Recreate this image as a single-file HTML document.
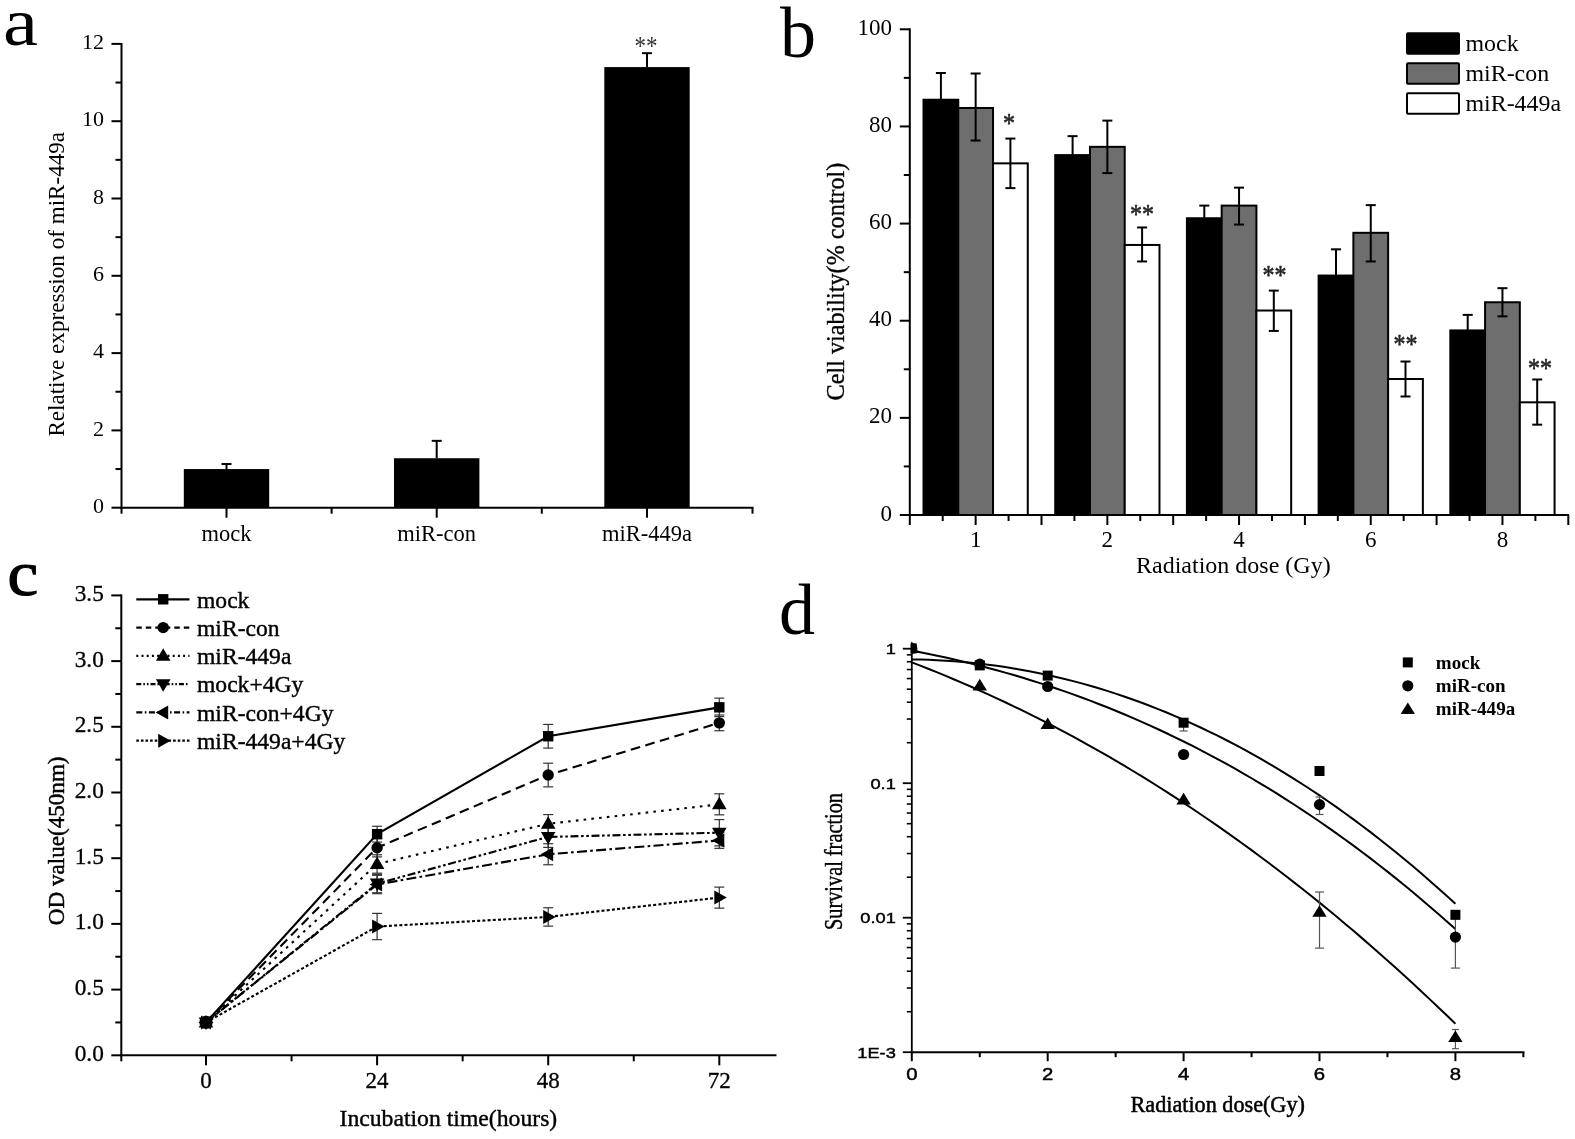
<!DOCTYPE html>
<html lang="en">
<head>
<meta charset="utf-8">
<title>Figure: miR-449a and radiosensitivity</title>
<style>
html,body{margin:0;padding:0;background:#fff;}
body{width:1575px;height:1139px;overflow:hidden;font-family:"Liberation Serif", serif;}
svg{display:block;filter:blur(0.5px);}
text{white-space:pre;}
</style>
</head>
<body>
<svg width="1575" height="1139" viewBox="0 0 1575 1139">
<rect x="0" y="0" width="1575" height="1139" fill="#fff"/>
<g id="panel-a">
<text font-family='"Liberation Serif", serif' font-size="68" text-anchor="start" fill="#000" transform="translate(3 45.3) scale(1.16 1)" >a</text>
<line x1="121.5" y1="42.9" x2="121.5" y2="508.7" stroke="#000" stroke-width="2" />
<line x1="120.5" y1="507.7" x2="753.5" y2="507.7" stroke="#000" stroke-width="2" />
<line x1="111.5" y1="507.7" x2="121.5" y2="507.7" stroke="#000" stroke-width="2" />
<text x="104" y="512.9" font-family='"Liberation Serif", serif' font-size="22" text-anchor="end" fill="#000" >0</text>
<line x1="115.5" y1="469.05" x2="121.5" y2="469.05" stroke="#000" stroke-width="2" />
<line x1="111.5" y1="430.4" x2="121.5" y2="430.4" stroke="#000" stroke-width="2" />
<text x="104" y="435.6" font-family='"Liberation Serif", serif' font-size="22" text-anchor="end" fill="#000" >2</text>
<line x1="115.5" y1="391.75" x2="121.5" y2="391.75" stroke="#000" stroke-width="2" />
<line x1="111.5" y1="353.1" x2="121.5" y2="353.1" stroke="#000" stroke-width="2" />
<text x="104" y="358.3" font-family='"Liberation Serif", serif' font-size="22" text-anchor="end" fill="#000" >4</text>
<line x1="115.5" y1="314.45" x2="121.5" y2="314.45" stroke="#000" stroke-width="2" />
<line x1="111.5" y1="275.8" x2="121.5" y2="275.8" stroke="#000" stroke-width="2" />
<text x="104" y="281" font-family='"Liberation Serif", serif' font-size="22" text-anchor="end" fill="#000" >6</text>
<line x1="115.5" y1="237.15" x2="121.5" y2="237.15" stroke="#000" stroke-width="2" />
<line x1="111.5" y1="198.5" x2="121.5" y2="198.5" stroke="#000" stroke-width="2" />
<text x="104" y="203.7" font-family='"Liberation Serif", serif' font-size="22" text-anchor="end" fill="#000" >8</text>
<line x1="115.5" y1="159.85" x2="121.5" y2="159.85" stroke="#000" stroke-width="2" />
<line x1="111.5" y1="121.2" x2="121.5" y2="121.2" stroke="#000" stroke-width="2" />
<text x="104" y="126.4" font-family='"Liberation Serif", serif' font-size="22" text-anchor="end" fill="#000" >10</text>
<line x1="115.5" y1="82.55" x2="121.5" y2="82.55" stroke="#000" stroke-width="2" />
<line x1="111.5" y1="43.9" x2="121.5" y2="43.9" stroke="#000" stroke-width="2" />
<text x="104" y="49.1" font-family='"Liberation Serif", serif' font-size="22" text-anchor="end" fill="#000" >12</text>
<text font-family='"Liberation Serif", serif' font-size="23.1" text-anchor="middle" fill="#000" transform="translate(63.7 284.3) rotate(-90)" >Relative expression of miR-449a</text>
<line x1="121.5" y1="507.7" x2="121.5" y2="513.7" stroke="#000" stroke-width="2" />
<line x1="331.6" y1="507.7" x2="331.6" y2="513.7" stroke="#000" stroke-width="2" />
<line x1="541.8" y1="507.7" x2="541.8" y2="513.7" stroke="#000" stroke-width="2" />
<line x1="752.5" y1="507.7" x2="752.5" y2="513.7" stroke="#000" stroke-width="2" />
<line x1="226.5" y1="507.7" x2="226.5" y2="517.7" stroke="#000" stroke-width="2" />
<text x="226.5" y="541.3" font-family='"Liberation Serif", serif' font-size="22.5" text-anchor="middle" fill="#000" >mock</text>
<rect x="183.8" y="469.05" width="85.4" height="38.65" fill="#000"/>
<line x1="226.5" y1="464.03" x2="226.5" y2="469.05" stroke="#000" stroke-width="2" />
<line x1="221.5" y1="464.03" x2="231.5" y2="464.03" stroke="#000" stroke-width="2" />
<line x1="436.7" y1="507.7" x2="436.7" y2="517.7" stroke="#000" stroke-width="2" />
<text x="436.7" y="541.3" font-family='"Liberation Serif", serif' font-size="22.5" text-anchor="middle" fill="#000" >miR-con</text>
<rect x="394" y="458.23" width="85.4" height="49.47" fill="#000"/>
<line x1="436.7" y1="440.84" x2="436.7" y2="458.23" stroke="#000" stroke-width="2" />
<line x1="431.7" y1="440.84" x2="441.7" y2="440.84" stroke="#000" stroke-width="2" />
<line x1="647" y1="507.7" x2="647" y2="517.7" stroke="#000" stroke-width="2" />
<text x="647" y="541.3" font-family='"Liberation Serif", serif' font-size="22.5" text-anchor="middle" fill="#000" >miR-449a</text>
<rect x="604.3" y="67.09" width="85.4" height="440.61" fill="#000"/>
<line x1="647" y1="53.18" x2="647" y2="67.09" stroke="#000" stroke-width="2" />
<line x1="642" y1="53.18" x2="652" y2="53.18" stroke="#000" stroke-width="2" />
<text font-family='"Liberation Serif", serif' font-size="23" text-anchor="middle" fill="#333" transform="translate(646 55.3) scale(1 1.2)" >**</text>
</g>
<g id="panel-b">
<text x="780" y="56.5" font-family='"Liberation Serif", serif' font-size="72" text-anchor="start" fill="#000" >b</text>
<line x1="909.8" y1="28.3" x2="909.8" y2="516" stroke="#000" stroke-width="2" />
<line x1="908.8" y1="515" x2="1569" y2="515" stroke="#000" stroke-width="2" />
<line x1="899.8" y1="515" x2="909.8" y2="515" stroke="#000" stroke-width="2" />
<text x="892.1" y="520.5" font-family='"Liberation Serif", serif' font-size="23" text-anchor="end" fill="#000" >0</text>
<line x1="903.8" y1="466.43" x2="909.8" y2="466.43" stroke="#000" stroke-width="2" />
<line x1="899.8" y1="417.86" x2="909.8" y2="417.86" stroke="#000" stroke-width="2" />
<text x="892.1" y="423.36" font-family='"Liberation Serif", serif' font-size="23" text-anchor="end" fill="#000" >20</text>
<line x1="903.8" y1="369.29" x2="909.8" y2="369.29" stroke="#000" stroke-width="2" />
<line x1="899.8" y1="320.72" x2="909.8" y2="320.72" stroke="#000" stroke-width="2" />
<text x="892.1" y="326.22" font-family='"Liberation Serif", serif' font-size="23" text-anchor="end" fill="#000" >40</text>
<line x1="903.8" y1="272.15" x2="909.8" y2="272.15" stroke="#000" stroke-width="2" />
<line x1="899.8" y1="223.58" x2="909.8" y2="223.58" stroke="#000" stroke-width="2" />
<text x="892.1" y="229.08" font-family='"Liberation Serif", serif' font-size="23" text-anchor="end" fill="#000" >60</text>
<line x1="903.8" y1="175.01" x2="909.8" y2="175.01" stroke="#000" stroke-width="2" />
<line x1="899.8" y1="126.44" x2="909.8" y2="126.44" stroke="#000" stroke-width="2" />
<text x="892.1" y="131.94" font-family='"Liberation Serif", serif' font-size="23" text-anchor="end" fill="#000" >80</text>
<line x1="903.8" y1="77.87" x2="909.8" y2="77.87" stroke="#000" stroke-width="2" />
<line x1="899.8" y1="29.3" x2="909.8" y2="29.3" stroke="#000" stroke-width="2" />
<text x="892.1" y="34.8" font-family='"Liberation Serif", serif' font-size="23" text-anchor="end" fill="#000" >100</text>
<text font-family='"Liberation Serif", serif' font-size="24.2" text-anchor="middle" fill="#000" stroke="#000" stroke-width="0.35" transform="translate(844 281.5) rotate(-90)" >Cell viability(% control)</text>
<line x1="909.8" y1="515" x2="909.8" y2="525" stroke="#000" stroke-width="2" />
<line x1="942.72" y1="515" x2="942.72" y2="521" stroke="#000" stroke-width="2" />
<line x1="975.65" y1="515" x2="975.65" y2="525" stroke="#000" stroke-width="2" />
<line x1="1008.57" y1="515" x2="1008.57" y2="521" stroke="#000" stroke-width="2" />
<line x1="1041.5" y1="515" x2="1041.5" y2="525" stroke="#000" stroke-width="2" />
<line x1="1074.42" y1="515" x2="1074.42" y2="521" stroke="#000" stroke-width="2" />
<line x1="1107.35" y1="515" x2="1107.35" y2="525" stroke="#000" stroke-width="2" />
<line x1="1140.27" y1="515" x2="1140.27" y2="521" stroke="#000" stroke-width="2" />
<line x1="1173.2" y1="515" x2="1173.2" y2="525" stroke="#000" stroke-width="2" />
<line x1="1206.12" y1="515" x2="1206.12" y2="521" stroke="#000" stroke-width="2" />
<line x1="1239.05" y1="515" x2="1239.05" y2="525" stroke="#000" stroke-width="2" />
<line x1="1271.97" y1="515" x2="1271.97" y2="521" stroke="#000" stroke-width="2" />
<line x1="1304.9" y1="515" x2="1304.9" y2="525" stroke="#000" stroke-width="2" />
<line x1="1337.82" y1="515" x2="1337.82" y2="521" stroke="#000" stroke-width="2" />
<line x1="1370.75" y1="515" x2="1370.75" y2="525" stroke="#000" stroke-width="2" />
<line x1="1403.67" y1="515" x2="1403.67" y2="521" stroke="#000" stroke-width="2" />
<line x1="1436.6" y1="515" x2="1436.6" y2="525" stroke="#000" stroke-width="2" />
<line x1="1469.52" y1="515" x2="1469.52" y2="521" stroke="#000" stroke-width="2" />
<line x1="1502.45" y1="515" x2="1502.45" y2="525" stroke="#000" stroke-width="2" />
<line x1="1535.38" y1="515" x2="1535.38" y2="521" stroke="#000" stroke-width="2" />
<line x1="1568.3" y1="515" x2="1568.3" y2="525" stroke="#000" stroke-width="2" />
<rect x="923.52" y="99.73" width="34.75" height="415.27" fill="#000" stroke="#000" stroke-width="2"/>
<rect x="958.27" y="107.98" width="34.75" height="407.02" fill="#6e6e6e" stroke="#000" stroke-width="2"/>
<rect x="993.02" y="163.35" width="34.75" height="351.65" fill="#fff" stroke="#000" stroke-width="2"/>
<line x1="940.9" y1="73.01" x2="940.9" y2="126.44" stroke="#000" stroke-width="2" />
<line x1="935.9" y1="73.01" x2="945.9" y2="73.01" stroke="#000" stroke-width="2" />
<line x1="935.9" y1="126.44" x2="945.9" y2="126.44" stroke="#000" stroke-width="2" />
<line x1="975.65" y1="73.5" x2="975.65" y2="140.53" stroke="#000" stroke-width="2" />
<line x1="970.65" y1="73.5" x2="980.65" y2="73.5" stroke="#000" stroke-width="2" />
<line x1="970.65" y1="140.53" x2="980.65" y2="140.53" stroke="#000" stroke-width="2" />
<line x1="1010.4" y1="138.58" x2="1010.4" y2="188.12" stroke="#000" stroke-width="2" />
<line x1="1005.4" y1="138.58" x2="1015.4" y2="138.58" stroke="#000" stroke-width="2" />
<line x1="1005.4" y1="188.12" x2="1015.4" y2="188.12" stroke="#000" stroke-width="2" />
<text x="975.65" y="546.5" font-family='"Liberation Serif", serif' font-size="23" text-anchor="middle" fill="#000" >1</text>
<rect x="1055.22" y="155.1" width="34.75" height="359.9" fill="#000" stroke="#000" stroke-width="2"/>
<rect x="1089.97" y="146.84" width="34.75" height="368.16" fill="#6e6e6e" stroke="#000" stroke-width="2"/>
<rect x="1124.72" y="244.95" width="34.75" height="270.05" fill="#fff" stroke="#000" stroke-width="2"/>
<line x1="1072.6" y1="136.15" x2="1072.6" y2="174.04" stroke="#000" stroke-width="2" />
<line x1="1067.6" y1="136.15" x2="1077.6" y2="136.15" stroke="#000" stroke-width="2" />
<line x1="1067.6" y1="174.04" x2="1077.6" y2="174.04" stroke="#000" stroke-width="2" />
<line x1="1107.35" y1="120.61" x2="1107.35" y2="173.07" stroke="#000" stroke-width="2" />
<line x1="1102.35" y1="120.61" x2="1112.35" y2="120.61" stroke="#000" stroke-width="2" />
<line x1="1102.35" y1="173.07" x2="1112.35" y2="173.07" stroke="#000" stroke-width="2" />
<line x1="1142.1" y1="227.47" x2="1142.1" y2="261.46" stroke="#000" stroke-width="2" />
<line x1="1137.1" y1="227.47" x2="1147.1" y2="227.47" stroke="#000" stroke-width="2" />
<line x1="1137.1" y1="261.46" x2="1147.1" y2="261.46" stroke="#000" stroke-width="2" />
<text x="1107.35" y="546.5" font-family='"Liberation Serif", serif' font-size="23" text-anchor="middle" fill="#000" >2</text>
<rect x="1186.92" y="218.24" width="34.75" height="296.76" fill="#000" stroke="#000" stroke-width="2"/>
<rect x="1221.67" y="205.61" width="34.75" height="309.39" fill="#6e6e6e" stroke="#000" stroke-width="2"/>
<rect x="1256.42" y="310.52" width="34.75" height="204.48" fill="#fff" stroke="#000" stroke-width="2"/>
<line x1="1204.3" y1="205.61" x2="1204.3" y2="230.87" stroke="#000" stroke-width="2" />
<line x1="1199.3" y1="205.61" x2="1209.3" y2="205.61" stroke="#000" stroke-width="2" />
<line x1="1199.3" y1="230.87" x2="1209.3" y2="230.87" stroke="#000" stroke-width="2" />
<line x1="1239.05" y1="187.64" x2="1239.05" y2="224.55" stroke="#000" stroke-width="2" />
<line x1="1234.05" y1="187.64" x2="1244.05" y2="187.64" stroke="#000" stroke-width="2" />
<line x1="1234.05" y1="224.55" x2="1244.05" y2="224.55" stroke="#000" stroke-width="2" />
<line x1="1273.8" y1="290.61" x2="1273.8" y2="330.92" stroke="#000" stroke-width="2" />
<line x1="1268.8" y1="290.61" x2="1278.8" y2="290.61" stroke="#000" stroke-width="2" />
<line x1="1268.8" y1="330.92" x2="1278.8" y2="330.92" stroke="#000" stroke-width="2" />
<text x="1239.05" y="546.5" font-family='"Liberation Serif", serif' font-size="23" text-anchor="middle" fill="#000" >4</text>
<rect x="1318.62" y="275.55" width="34.75" height="239.45" fill="#000" stroke="#000" stroke-width="2"/>
<rect x="1353.38" y="232.81" width="34.75" height="282.19" fill="#6e6e6e" stroke="#000" stroke-width="2"/>
<rect x="1388.12" y="379" width="34.75" height="136" fill="#fff" stroke="#000" stroke-width="2"/>
<line x1="1336" y1="249.32" x2="1336" y2="301.78" stroke="#000" stroke-width="2" />
<line x1="1331" y1="249.32" x2="1341" y2="249.32" stroke="#000" stroke-width="2" />
<line x1="1331" y1="301.78" x2="1341" y2="301.78" stroke="#000" stroke-width="2" />
<line x1="1370.75" y1="205.12" x2="1370.75" y2="261.46" stroke="#000" stroke-width="2" />
<line x1="1365.75" y1="205.12" x2="1375.75" y2="205.12" stroke="#000" stroke-width="2" />
<line x1="1365.75" y1="261.46" x2="1375.75" y2="261.46" stroke="#000" stroke-width="2" />
<line x1="1405.5" y1="361.52" x2="1405.5" y2="396.49" stroke="#000" stroke-width="2" />
<line x1="1400.5" y1="361.52" x2="1410.5" y2="361.52" stroke="#000" stroke-width="2" />
<line x1="1400.5" y1="396.49" x2="1410.5" y2="396.49" stroke="#000" stroke-width="2" />
<text x="1370.75" y="546.5" font-family='"Liberation Serif", serif' font-size="23" text-anchor="middle" fill="#000" >6</text>
<rect x="1450.32" y="330.43" width="34.75" height="184.57" fill="#000" stroke="#000" stroke-width="2"/>
<rect x="1485.07" y="302.26" width="34.75" height="212.74" fill="#6e6e6e" stroke="#000" stroke-width="2"/>
<rect x="1519.82" y="402.32" width="34.75" height="112.68" fill="#fff" stroke="#000" stroke-width="2"/>
<line x1="1467.7" y1="314.89" x2="1467.7" y2="345.98" stroke="#000" stroke-width="2" />
<line x1="1462.7" y1="314.89" x2="1472.7" y2="314.89" stroke="#000" stroke-width="2" />
<line x1="1462.7" y1="345.98" x2="1472.7" y2="345.98" stroke="#000" stroke-width="2" />
<line x1="1502.45" y1="288.18" x2="1502.45" y2="316.35" stroke="#000" stroke-width="2" />
<line x1="1497.45" y1="288.18" x2="1507.45" y2="288.18" stroke="#000" stroke-width="2" />
<line x1="1497.45" y1="316.35" x2="1507.45" y2="316.35" stroke="#000" stroke-width="2" />
<line x1="1537.2" y1="379.49" x2="1537.2" y2="424.66" stroke="#000" stroke-width="2" />
<line x1="1532.2" y1="379.49" x2="1542.2" y2="379.49" stroke="#000" stroke-width="2" />
<line x1="1532.2" y1="424.66" x2="1542.2" y2="424.66" stroke="#000" stroke-width="2" />
<text x="1502.45" y="546.5" font-family='"Liberation Serif", serif' font-size="23" text-anchor="middle" fill="#000" >8</text>
<text font-family='"Liberation Serif", serif' font-size="24" text-anchor="middle" fill="#222" stroke="#222" stroke-width="0.5" transform="translate(1009 132) scale(1 1.1)" >*</text>
<text font-family='"Liberation Serif", serif' font-size="24" text-anchor="middle" fill="#222" stroke="#222" stroke-width="0.5" transform="translate(1142 223) scale(1 1.1)" >**</text>
<text font-family='"Liberation Serif", serif' font-size="24" text-anchor="middle" fill="#222" stroke="#222" stroke-width="0.5" transform="translate(1274.5 284) scale(1 1.1)" >**</text>
<text font-family='"Liberation Serif", serif' font-size="24" text-anchor="middle" fill="#222" stroke="#222" stroke-width="0.5" transform="translate(1405.5 353) scale(1 1.1)" >**</text>
<text font-family='"Liberation Serif", serif' font-size="24" text-anchor="middle" fill="#222" stroke="#222" stroke-width="0.5" transform="translate(1540 377) scale(1 1.1)" >**</text>
<text x="1136" y="572.5" font-family='"Liberation Serif", serif' font-size="24" text-anchor="start" fill="#000" >Radiation dose (Gy)</text>
<rect x="1407" y="33.3" width="52" height="20.5" fill="#000" stroke="#000" stroke-width="2" rx="1"/>
<text x="1465.5" y="50.9" font-family='"Liberation Serif", serif' font-size="23.9" text-anchor="start" fill="#000" >mock</text>
<rect x="1407" y="63.3" width="52" height="20.5" fill="#6e6e6e" stroke="#000" stroke-width="2" rx="1"/>
<text x="1465.5" y="80.9" font-family='"Liberation Serif", serif' font-size="23.9" text-anchor="start" fill="#000" >miR-con</text>
<rect x="1407" y="93.3" width="52" height="20.5" fill="#fff" stroke="#000" stroke-width="2" rx="1"/>
<text x="1465.5" y="110.9" font-family='"Liberation Serif", serif' font-size="23.9" text-anchor="start" fill="#000" >miR-449a</text>
</g>
<g id="panel-c">
<text font-family='"Liberation Serif", serif' font-size="64" text-anchor="start" fill="#000" stroke="#000" stroke-width="1.2" transform="translate(7.5 595.2) scale(1.08 1)" >c</text>
<line x1="121.3" y1="594.4" x2="121.3" y2="1056.3" stroke="#000" stroke-width="2" />
<line x1="120.3" y1="1055.3" x2="776.5" y2="1055.3" stroke="#000" stroke-width="2" />
<line x1="111.3" y1="1055.3" x2="121.3" y2="1055.3" stroke="#000" stroke-width="2" />
<text x="103.8" y="1060.8" font-family='"Liberation Serif", serif' font-size="23.3" text-anchor="end" fill="#000" stroke="#000" stroke-width="0.3" >0.0</text>
<line x1="115.3" y1="1022.45" x2="121.3" y2="1022.45" stroke="#000" stroke-width="2" />
<line x1="111.3" y1="989.6" x2="121.3" y2="989.6" stroke="#000" stroke-width="2" />
<text x="103.8" y="995.1" font-family='"Liberation Serif", serif' font-size="23.3" text-anchor="end" fill="#000" stroke="#000" stroke-width="0.3" >0.5</text>
<line x1="115.3" y1="956.75" x2="121.3" y2="956.75" stroke="#000" stroke-width="2" />
<line x1="111.3" y1="923.9" x2="121.3" y2="923.9" stroke="#000" stroke-width="2" />
<text x="103.8" y="929.4" font-family='"Liberation Serif", serif' font-size="23.3" text-anchor="end" fill="#000" stroke="#000" stroke-width="0.3" >1.0</text>
<line x1="115.3" y1="891.05" x2="121.3" y2="891.05" stroke="#000" stroke-width="2" />
<line x1="111.3" y1="858.2" x2="121.3" y2="858.2" stroke="#000" stroke-width="2" />
<text x="103.8" y="863.7" font-family='"Liberation Serif", serif' font-size="23.3" text-anchor="end" fill="#000" stroke="#000" stroke-width="0.3" >1.5</text>
<line x1="115.3" y1="825.35" x2="121.3" y2="825.35" stroke="#000" stroke-width="2" />
<line x1="111.3" y1="792.5" x2="121.3" y2="792.5" stroke="#000" stroke-width="2" />
<text x="103.8" y="798" font-family='"Liberation Serif", serif' font-size="23.3" text-anchor="end" fill="#000" stroke="#000" stroke-width="0.3" >2.0</text>
<line x1="115.3" y1="759.65" x2="121.3" y2="759.65" stroke="#000" stroke-width="2" />
<line x1="111.3" y1="726.8" x2="121.3" y2="726.8" stroke="#000" stroke-width="2" />
<text x="103.8" y="732.3" font-family='"Liberation Serif", serif' font-size="23.3" text-anchor="end" fill="#000" stroke="#000" stroke-width="0.3" >2.5</text>
<line x1="115.3" y1="693.95" x2="121.3" y2="693.95" stroke="#000" stroke-width="2" />
<line x1="111.3" y1="661.1" x2="121.3" y2="661.1" stroke="#000" stroke-width="2" />
<text x="103.8" y="666.6" font-family='"Liberation Serif", serif' font-size="23.3" text-anchor="end" fill="#000" stroke="#000" stroke-width="0.3" >3.0</text>
<line x1="115.3" y1="628.25" x2="121.3" y2="628.25" stroke="#000" stroke-width="2" />
<line x1="111.3" y1="595.4" x2="121.3" y2="595.4" stroke="#000" stroke-width="2" />
<text x="103.8" y="600.9" font-family='"Liberation Serif", serif' font-size="23.3" text-anchor="end" fill="#000" stroke="#000" stroke-width="0.3" >3.5</text>
<text font-family='"Liberation Serif", serif' font-size="23.1" text-anchor="middle" fill="#000" stroke="#000" stroke-width="0.45" transform="translate(64.3 840.8) rotate(-90)" >OD value(450nm)</text>
<line x1="121.3" y1="1055.3" x2="121.3" y2="1061.3" stroke="#000" stroke-width="2" />
<line x1="206" y1="1055.3" x2="206" y2="1065.3" stroke="#000" stroke-width="2" />
<text x="206" y="1087.6" font-family='"Liberation Serif", serif' font-size="23" text-anchor="middle" fill="#000" stroke="#000" stroke-width="0.3" >0</text>
<line x1="377.1" y1="1055.3" x2="377.1" y2="1065.3" stroke="#000" stroke-width="2" />
<text x="377.1" y="1087.6" font-family='"Liberation Serif", serif' font-size="23" text-anchor="middle" fill="#000" stroke="#000" stroke-width="0.3" >24</text>
<line x1="548.2" y1="1055.3" x2="548.2" y2="1065.3" stroke="#000" stroke-width="2" />
<text x="548.2" y="1087.6" font-family='"Liberation Serif", serif' font-size="23" text-anchor="middle" fill="#000" stroke="#000" stroke-width="0.3" >48</text>
<line x1="719.3" y1="1055.3" x2="719.3" y2="1065.3" stroke="#000" stroke-width="2" />
<text x="719.3" y="1087.6" font-family='"Liberation Serif", serif' font-size="23" text-anchor="middle" fill="#000" stroke="#000" stroke-width="0.3" >72</text>
<line x1="291.55" y1="1055.3" x2="291.55" y2="1061.3" stroke="#000" stroke-width="2" />
<line x1="462.65" y1="1055.3" x2="462.65" y2="1061.3" stroke="#000" stroke-width="2" />
<line x1="633.75" y1="1055.3" x2="633.75" y2="1061.3" stroke="#000" stroke-width="2" />
<text x="339.5" y="1125.6" font-family='"Liberation Serif", serif' font-size="23.7" text-anchor="start" fill="#000" stroke="#000" stroke-width="0.4" >Incubation time(hours)</text>
<line x1="377.1" y1="826.27" x2="377.1" y2="842.04" stroke="#333" stroke-width="1.2" />
<line x1="372.1" y1="826.27" x2="382.1" y2="826.27" stroke="#333" stroke-width="1.2" />
<line x1="372.1" y1="842.04" x2="382.1" y2="842.04" stroke="#333" stroke-width="1.2" />
<line x1="548.2" y1="724.43" x2="548.2" y2="748.09" stroke="#333" stroke-width="1.2" />
<line x1="543.2" y1="724.43" x2="553.2" y2="724.43" stroke="#333" stroke-width="1.2" />
<line x1="543.2" y1="748.09" x2="553.2" y2="748.09" stroke="#333" stroke-width="1.2" />
<line x1="719.3" y1="698.15" x2="719.3" y2="716.55" stroke="#333" stroke-width="1.2" />
<line x1="714.3" y1="698.15" x2="724.3" y2="698.15" stroke="#333" stroke-width="1.2" />
<line x1="714.3" y1="716.55" x2="724.3" y2="716.55" stroke="#333" stroke-width="1.2" />
<line x1="377.1" y1="838.49" x2="377.1" y2="856.89" stroke="#333" stroke-width="1.2" />
<line x1="372.1" y1="838.49" x2="382.1" y2="838.49" stroke="#333" stroke-width="1.2" />
<line x1="372.1" y1="856.89" x2="382.1" y2="856.89" stroke="#333" stroke-width="1.2" />
<line x1="548.2" y1="763.2" x2="548.2" y2="786.85" stroke="#333" stroke-width="1.2" />
<line x1="543.2" y1="763.2" x2="553.2" y2="763.2" stroke="#333" stroke-width="1.2" />
<line x1="543.2" y1="786.85" x2="553.2" y2="786.85" stroke="#333" stroke-width="1.2" />
<line x1="719.3" y1="714.97" x2="719.3" y2="730.74" stroke="#333" stroke-width="1.2" />
<line x1="714.3" y1="714.97" x2="724.3" y2="714.97" stroke="#333" stroke-width="1.2" />
<line x1="714.3" y1="730.74" x2="724.3" y2="730.74" stroke="#333" stroke-width="1.2" />
<line x1="377.1" y1="854.78" x2="377.1" y2="873.18" stroke="#333" stroke-width="1.2" />
<line x1="372.1" y1="854.78" x2="382.1" y2="854.78" stroke="#333" stroke-width="1.2" />
<line x1="372.1" y1="873.18" x2="382.1" y2="873.18" stroke="#333" stroke-width="1.2" />
<line x1="548.2" y1="814.58" x2="548.2" y2="832.97" stroke="#333" stroke-width="1.2" />
<line x1="543.2" y1="814.58" x2="553.2" y2="814.58" stroke="#333" stroke-width="1.2" />
<line x1="543.2" y1="832.97" x2="553.2" y2="832.97" stroke="#333" stroke-width="1.2" />
<line x1="719.3" y1="793.81" x2="719.3" y2="814.84" stroke="#333" stroke-width="1.2" />
<line x1="714.3" y1="793.81" x2="724.3" y2="793.81" stroke="#333" stroke-width="1.2" />
<line x1="714.3" y1="814.84" x2="724.3" y2="814.84" stroke="#333" stroke-width="1.2" />
<line x1="377.1" y1="874.36" x2="377.1" y2="892.76" stroke="#333" stroke-width="1.2" />
<line x1="372.1" y1="874.36" x2="382.1" y2="874.36" stroke="#333" stroke-width="1.2" />
<line x1="372.1" y1="892.76" x2="382.1" y2="892.76" stroke="#333" stroke-width="1.2" />
<line x1="548.2" y1="826.4" x2="548.2" y2="847.43" stroke="#333" stroke-width="1.2" />
<line x1="543.2" y1="826.4" x2="553.2" y2="826.4" stroke="#333" stroke-width="1.2" />
<line x1="543.2" y1="847.43" x2="553.2" y2="847.43" stroke="#333" stroke-width="1.2" />
<line x1="719.3" y1="819.57" x2="719.3" y2="845.85" stroke="#333" stroke-width="1.2" />
<line x1="714.3" y1="819.57" x2="724.3" y2="819.57" stroke="#333" stroke-width="1.2" />
<line x1="714.3" y1="845.85" x2="724.3" y2="845.85" stroke="#333" stroke-width="1.2" />
<line x1="377.1" y1="875.28" x2="377.1" y2="893.68" stroke="#333" stroke-width="1.2" />
<line x1="372.1" y1="875.28" x2="382.1" y2="875.28" stroke="#333" stroke-width="1.2" />
<line x1="372.1" y1="893.68" x2="382.1" y2="893.68" stroke="#333" stroke-width="1.2" />
<line x1="548.2" y1="843.75" x2="548.2" y2="864.77" stroke="#333" stroke-width="1.2" />
<line x1="543.2" y1="843.75" x2="553.2" y2="843.75" stroke="#333" stroke-width="1.2" />
<line x1="543.2" y1="864.77" x2="553.2" y2="864.77" stroke="#333" stroke-width="1.2" />
<line x1="719.3" y1="832.58" x2="719.3" y2="848.34" stroke="#333" stroke-width="1.2" />
<line x1="714.3" y1="832.58" x2="724.3" y2="832.58" stroke="#333" stroke-width="1.2" />
<line x1="714.3" y1="848.34" x2="724.3" y2="848.34" stroke="#333" stroke-width="1.2" />
<line x1="377.1" y1="913.39" x2="377.1" y2="939.67" stroke="#333" stroke-width="1.2" />
<line x1="372.1" y1="913.39" x2="382.1" y2="913.39" stroke="#333" stroke-width="1.2" />
<line x1="372.1" y1="939.67" x2="382.1" y2="939.67" stroke="#333" stroke-width="1.2" />
<line x1="548.2" y1="907.74" x2="548.2" y2="926.13" stroke="#333" stroke-width="1.2" />
<line x1="543.2" y1="907.74" x2="553.2" y2="907.74" stroke="#333" stroke-width="1.2" />
<line x1="543.2" y1="926.13" x2="553.2" y2="926.13" stroke="#333" stroke-width="1.2" />
<line x1="719.3" y1="887.11" x2="719.3" y2="908.13" stroke="#333" stroke-width="1.2" />
<line x1="714.3" y1="887.11" x2="724.3" y2="887.11" stroke="#333" stroke-width="1.2" />
<line x1="714.3" y1="908.13" x2="724.3" y2="908.13" stroke="#333" stroke-width="1.2" />
<polyline points="206,1022.45 377.1,834.15 548.2,736.26 719.3,707.35" fill="none" stroke="#000" stroke-width="2.1"/>
<polyline points="206,1022.45 377.1,847.69 548.2,775.02 719.3,722.86" fill="none" stroke="#000" stroke-width="2.1" stroke-dasharray="9.7 5.5"/>
<polyline points="206,1022.45 377.1,863.98 548.2,823.77 719.3,804.33" fill="none" stroke="#000" stroke-width="2.1" stroke-dasharray="2.6 5.2"/>
<polyline points="206,1022.45 377.1,883.56 548.2,836.91 719.3,832.71" fill="none" stroke="#000" stroke-width="2.1" stroke-dasharray="8 2.6 2.6 2.6 2.6 2.6"/>
<polyline points="206,1022.45 377.1,884.48 548.2,854.26 719.3,840.46" fill="none" stroke="#000" stroke-width="2.1" stroke-dasharray="10 3.3 2.6 3.3"/>
<polyline points="206,1022.45 377.1,926.53 548.2,916.94 719.3,897.62" fill="none" stroke="#000" stroke-width="2.1" stroke-dasharray="3 2.2"/>
<rect x="200.8" y="1017.25" width="10.4" height="10.4" fill="#000"/>
<rect x="371.9" y="828.95" width="10.4" height="10.4" fill="#000"/>
<rect x="543" y="731.06" width="10.4" height="10.4" fill="#000"/>
<rect x="714.1" y="702.15" width="10.4" height="10.4" fill="#000"/>
<circle cx="206" cy="1022.45" r="5.7" fill="#000"/>
<circle cx="377.1" cy="847.69" r="5.7" fill="#000"/>
<circle cx="548.2" cy="775.02" r="5.7" fill="#000"/>
<circle cx="719.3" cy="722.86" r="5.7" fill="#000"/>
<path d="M206 1014.95 L213.3 1027.45 L198.7 1027.45 Z" fill="#000"/>
<path d="M377.1 856.48 L384.4 868.98 L369.8 868.98 Z" fill="#000"/>
<path d="M548.2 816.27 L555.5 828.77 L540.9 828.77 Z" fill="#000"/>
<path d="M719.3 796.83 L726.6 809.33 L712 809.33 Z" fill="#000"/>
<path d="M206 1029.95 L213.3 1017.45 L198.7 1017.45 Z" fill="#000"/>
<path d="M377.1 891.06 L384.4 878.56 L369.8 878.56 Z" fill="#000"/>
<path d="M548.2 844.41 L555.5 831.91 L540.9 831.91 Z" fill="#000"/>
<path d="M719.3 840.21 L726.6 827.71 L712 827.71 Z" fill="#000"/>
<path d="M198.5 1022.45 L211 1015.45 L211 1029.45 Z" fill="#000"/>
<path d="M369.6 884.48 L382.1 877.48 L382.1 891.48 Z" fill="#000"/>
<path d="M540.7 854.26 L553.2 847.26 L553.2 861.26 Z" fill="#000"/>
<path d="M711.8 840.46 L724.3 833.46 L724.3 847.46 Z" fill="#000"/>
<path d="M213.5 1022.45 L201 1015.45 L201 1029.45 Z" fill="#000"/>
<path d="M384.6 926.53 L372.1 919.53 L372.1 933.53 Z" fill="#000"/>
<path d="M555.7 916.94 L543.2 909.94 L543.2 923.94 Z" fill="#000"/>
<path d="M726.8 897.62 L714.3 890.62 L714.3 904.62 Z" fill="#000"/>
<circle cx="206" cy="1022.45" r="6.6" fill="#000"/>
<line x1="136.3" y1="599.3" x2="189.5" y2="599.3" stroke="#000" stroke-width="2.2" />
<rect x="158" y="594.1" width="10.4" height="10.4" fill="#000"/>
<text x="197" y="607.6" font-family='"Liberation Serif", serif' font-size="23.6" text-anchor="start" fill="#000" stroke="#000" stroke-width="0.4" >mock</text>
<line x1="136.3" y1="627.58" x2="189.5" y2="627.58" stroke="#000" stroke-width="2.2" stroke-dasharray="5.5 4"/>
<circle cx="163.2" cy="627.58" r="5.7" fill="#000"/>
<text x="197" y="635.88" font-family='"Liberation Serif", serif' font-size="23.6" text-anchor="start" fill="#000" stroke="#000" stroke-width="0.4" >miR-con</text>
<line x1="136.3" y1="655.86" x2="189.5" y2="655.86" stroke="#000" stroke-width="2.2" stroke-dasharray="2 3.2"/>
<path d="M163.2 648.36 L170.5 660.86 L155.9 660.86 Z" fill="#000"/>
<text x="197" y="664.16" font-family='"Liberation Serif", serif' font-size="23.6" text-anchor="start" fill="#000" stroke="#000" stroke-width="0.4" >miR-449a</text>
<line x1="136.3" y1="684.14" x2="189.5" y2="684.14" stroke="#000" stroke-width="2.2" stroke-dasharray="5 2 1.6 2 1.6 2"/>
<path d="M163.2 691.64 L170.5 679.14 L155.9 679.14 Z" fill="#000"/>
<text x="197" y="692.44" font-family='"Liberation Serif", serif' font-size="23.6" text-anchor="start" fill="#000" stroke="#000" stroke-width="0.4" >mock+4Gy</text>
<line x1="136.3" y1="712.42" x2="189.5" y2="712.42" stroke="#000" stroke-width="2.2" stroke-dasharray="6 2.5 1.6 2.5"/>
<path d="M155.7 712.42 L168.2 705.42 L168.2 719.42 Z" fill="#000"/>
<text x="197" y="720.72" font-family='"Liberation Serif", serif' font-size="23.6" text-anchor="start" fill="#000" stroke="#000" stroke-width="0.4" >miR-con+4Gy</text>
<line x1="136.3" y1="740.7" x2="189.5" y2="740.7" stroke="#000" stroke-width="2.2" stroke-dasharray="2.6 2"/>
<path d="M170.7 740.7 L158.2 733.7 L158.2 747.7 Z" fill="#000"/>
<text x="197" y="749" font-family='"Liberation Serif", serif' font-size="23.6" text-anchor="start" fill="#000" stroke="#000" stroke-width="0.4" >miR-449a+4Gy</text>
</g>
<g id="panel-d">
<text x="779" y="633.6" font-family='"Liberation Serif", serif' font-size="72" text-anchor="start" fill="#000" >d</text>
<line x1="911.8" y1="647.7" x2="911.8" y2="1053.2" stroke="#000" stroke-width="1.8" />
<line x1="910.8" y1="1052.2" x2="1524.5" y2="1052.2" stroke="#000" stroke-width="2" />
<line x1="902.8" y1="1052.2" x2="911.8" y2="1052.2" stroke="#000" stroke-width="1.8" />
<text font-family='"Liberation Sans", sans-serif' font-size="15.2" text-anchor="end" fill="#000" stroke="#000" stroke-width="0.45" transform="translate(895.8 1057.6) scale(1.2 1)" >1E-3</text>
<line x1="906.8" y1="1011.71" x2="911.8" y2="1011.71" stroke="#000" stroke-width="1.6" />
<line x1="906.8" y1="988.03" x2="911.8" y2="988.03" stroke="#000" stroke-width="1.6" />
<line x1="906.8" y1="971.22" x2="911.8" y2="971.22" stroke="#000" stroke-width="1.6" />
<line x1="906.8" y1="958.19" x2="911.8" y2="958.19" stroke="#000" stroke-width="1.6" />
<line x1="906.8" y1="947.54" x2="911.8" y2="947.54" stroke="#000" stroke-width="1.6" />
<line x1="906.8" y1="938.53" x2="911.8" y2="938.53" stroke="#000" stroke-width="1.6" />
<line x1="906.8" y1="930.73" x2="911.8" y2="930.73" stroke="#000" stroke-width="1.6" />
<line x1="906.8" y1="923.85" x2="911.8" y2="923.85" stroke="#000" stroke-width="1.6" />
<line x1="902.8" y1="917.7" x2="911.8" y2="917.7" stroke="#000" stroke-width="1.8" />
<text font-family='"Liberation Sans", sans-serif' font-size="15.2" text-anchor="end" fill="#000" stroke="#000" stroke-width="0.45" transform="translate(895.8 923.1) scale(1.2 1)" >0.01</text>
<line x1="906.8" y1="877.21" x2="911.8" y2="877.21" stroke="#000" stroke-width="1.6" />
<line x1="906.8" y1="853.53" x2="911.8" y2="853.53" stroke="#000" stroke-width="1.6" />
<line x1="906.8" y1="836.72" x2="911.8" y2="836.72" stroke="#000" stroke-width="1.6" />
<line x1="906.8" y1="823.69" x2="911.8" y2="823.69" stroke="#000" stroke-width="1.6" />
<line x1="906.8" y1="813.04" x2="911.8" y2="813.04" stroke="#000" stroke-width="1.6" />
<line x1="906.8" y1="804.03" x2="911.8" y2="804.03" stroke="#000" stroke-width="1.6" />
<line x1="906.8" y1="796.23" x2="911.8" y2="796.23" stroke="#000" stroke-width="1.6" />
<line x1="906.8" y1="789.35" x2="911.8" y2="789.35" stroke="#000" stroke-width="1.6" />
<line x1="902.8" y1="783.2" x2="911.8" y2="783.2" stroke="#000" stroke-width="1.8" />
<text font-family='"Liberation Sans", sans-serif' font-size="15.2" text-anchor="end" fill="#000" stroke="#000" stroke-width="0.45" transform="translate(895.8 788.6) scale(1.2 1)" >0.1</text>
<line x1="906.8" y1="742.71" x2="911.8" y2="742.71" stroke="#000" stroke-width="1.6" />
<line x1="906.8" y1="719.03" x2="911.8" y2="719.03" stroke="#000" stroke-width="1.6" />
<line x1="906.8" y1="702.22" x2="911.8" y2="702.22" stroke="#000" stroke-width="1.6" />
<line x1="906.8" y1="689.19" x2="911.8" y2="689.19" stroke="#000" stroke-width="1.6" />
<line x1="906.8" y1="678.54" x2="911.8" y2="678.54" stroke="#000" stroke-width="1.6" />
<line x1="906.8" y1="669.53" x2="911.8" y2="669.53" stroke="#000" stroke-width="1.6" />
<line x1="906.8" y1="661.73" x2="911.8" y2="661.73" stroke="#000" stroke-width="1.6" />
<line x1="906.8" y1="654.85" x2="911.8" y2="654.85" stroke="#000" stroke-width="1.6" />
<line x1="902.8" y1="648.7" x2="911.8" y2="648.7" stroke="#000" stroke-width="1.8" />
<text font-family='"Liberation Sans", sans-serif' font-size="15.2" text-anchor="end" fill="#000" stroke="#000" stroke-width="0.45" transform="translate(895.8 654.1) scale(1.2 1)" >1</text>
<line x1="911.8" y1="1052.2" x2="911.8" y2="1061.2" stroke="#000" stroke-width="2" />
<text font-family='"Liberation Sans", sans-serif' font-size="16" text-anchor="middle" fill="#000" stroke="#000" stroke-width="0.45" transform="translate(911.8 1079.7) scale(1.27 1)" >0</text>
<line x1="979.75" y1="1052.2" x2="979.75" y2="1057.2" stroke="#000" stroke-width="2" />
<line x1="1047.7" y1="1052.2" x2="1047.7" y2="1061.2" stroke="#000" stroke-width="2" />
<text font-family='"Liberation Sans", sans-serif' font-size="16" text-anchor="middle" fill="#000" stroke="#000" stroke-width="0.45" transform="translate(1047.7 1079.7) scale(1.27 1)" >2</text>
<line x1="1115.65" y1="1052.2" x2="1115.65" y2="1057.2" stroke="#000" stroke-width="2" />
<line x1="1183.6" y1="1052.2" x2="1183.6" y2="1061.2" stroke="#000" stroke-width="2" />
<text font-family='"Liberation Sans", sans-serif' font-size="16" text-anchor="middle" fill="#000" stroke="#000" stroke-width="0.45" transform="translate(1183.6 1079.7) scale(1.27 1)" >4</text>
<line x1="1251.55" y1="1052.2" x2="1251.55" y2="1057.2" stroke="#000" stroke-width="2" />
<line x1="1319.5" y1="1052.2" x2="1319.5" y2="1061.2" stroke="#000" stroke-width="2" />
<text font-family='"Liberation Sans", sans-serif' font-size="16" text-anchor="middle" fill="#000" stroke="#000" stroke-width="0.45" transform="translate(1319.5 1079.7) scale(1.27 1)" >6</text>
<line x1="1387.45" y1="1052.2" x2="1387.45" y2="1057.2" stroke="#000" stroke-width="2" />
<line x1="1455.4" y1="1052.2" x2="1455.4" y2="1061.2" stroke="#000" stroke-width="2" />
<text font-family='"Liberation Sans", sans-serif' font-size="16" text-anchor="middle" fill="#000" stroke="#000" stroke-width="0.45" transform="translate(1455.4 1079.7) scale(1.27 1)" >8</text>
<line x1="1523.35" y1="1052.2" x2="1523.35" y2="1057.2" stroke="#000" stroke-width="2" />
<text font-family='"Liberation Serif", serif' font-size="20.3" text-anchor="middle" fill="#000" stroke="#000" stroke-width="0.35" transform="translate(842.2 861.5) rotate(-90) scale(1 1.23)" >Survival fraction</text>
<text x="1130.5" y="1111.7" font-family='"Liberation Serif", serif' font-size="22.2" text-anchor="start" fill="#000" stroke="#000" stroke-width="0.5" >Radiation dose(Gy)</text>
<polyline points="911.8,659.45 920.29,659.6 928.79,659.86 937.28,660.23 945.77,660.7 954.27,661.28 962.76,661.97 971.26,662.78 979.75,663.69 988.24,664.71 996.74,665.85 1005.23,667.09 1013.72,668.45 1022.22,669.92 1030.71,671.5 1039.21,673.2 1047.7,675.01 1056.19,676.93 1064.69,678.97 1073.18,681.12 1081.67,683.39 1090.17,685.78 1098.66,688.28 1107.16,690.89 1115.65,693.63 1124.14,696.48 1132.64,699.45 1141.13,702.54 1149.62,705.74 1158.12,709.07 1166.61,712.51 1175.11,716.08 1183.6,719.76 1192.09,723.57 1200.59,727.5 1209.08,731.55 1217.58,735.72 1226.07,740.01 1234.56,744.43 1243.06,748.97 1251.55,753.63 1260.04,758.42 1268.54,763.34 1277.03,768.37 1285.53,773.54 1294.02,778.83 1302.51,784.24 1311.01,789.78 1319.5,795.45 1327.99,801.25 1336.49,807.18 1344.98,813.23 1353.47,819.41 1361.97,825.72 1370.46,832.16 1378.96,838.74 1387.45,845.44 1395.94,852.27 1404.44,859.24 1412.93,866.33 1421.42,873.56 1429.92,880.92 1438.41,888.42 1446.91,896.04 1455.4,903.8" fill="none" stroke="#000" stroke-width="2"/>
<polyline points="911.8,650.55 920.29,652.2 928.79,653.91 937.28,655.7 945.77,657.55 954.27,659.48 962.76,661.48 971.26,663.55 979.75,665.7 988.24,667.92 996.74,670.22 1005.23,672.59 1013.72,675.04 1022.22,677.56 1030.71,680.17 1039.21,682.86 1047.7,685.62 1056.19,688.47 1064.69,691.4 1073.18,694.41 1081.67,697.5 1090.17,700.68 1098.66,703.95 1107.16,707.3 1115.65,710.74 1124.14,714.27 1132.64,717.88 1141.13,721.58 1149.62,725.38 1158.12,729.26 1166.61,733.24 1175.11,737.31 1183.6,741.48 1192.09,745.73 1200.59,750.09 1209.08,754.54 1217.58,759.08 1226.07,763.73 1234.56,768.47 1243.06,773.31 1251.55,778.25 1260.04,783.3 1268.54,788.44 1277.03,793.69 1285.53,799.04 1294.02,804.5 1302.51,810.06 1311.01,815.72 1319.5,821.49 1327.99,827.38 1336.49,833.36 1344.98,839.46 1353.47,845.67 1361.97,851.99 1370.46,858.42 1378.96,864.97 1387.45,871.62 1395.94,878.39 1404.44,885.28 1412.93,892.28 1421.42,899.4 1429.92,906.64 1438.41,913.99 1446.91,921.47 1455.4,929.06" fill="none" stroke="#000" stroke-width="2"/>
<polyline points="911.8,662.38 920.29,665.66 928.79,669.01 937.28,672.43 945.77,675.92 954.27,679.47 962.76,683.1 971.26,686.79 979.75,690.56 988.24,694.4 996.74,698.3 1005.23,702.28 1013.72,706.34 1022.22,710.46 1030.71,714.65 1039.21,718.92 1047.7,723.26 1056.19,727.68 1064.69,732.16 1073.18,736.73 1081.67,741.36 1090.17,746.07 1098.66,750.86 1107.16,755.72 1115.65,760.65 1124.14,765.67 1132.64,770.75 1141.13,775.92 1149.62,781.16 1158.12,786.48 1166.61,791.87 1175.11,797.35 1183.6,802.9 1192.09,808.53 1200.59,814.24 1209.08,820.03 1217.58,825.9 1226.07,831.85 1234.56,837.87 1243.06,843.98 1251.55,850.17 1260.04,856.44 1268.54,862.79 1277.03,869.22 1285.53,875.74 1294.02,882.34 1302.51,889.02 1311.01,895.78 1319.5,902.63 1327.99,909.56 1336.49,916.57 1344.98,923.67 1353.47,930.85 1361.97,938.12 1370.46,945.47 1378.96,952.91 1387.45,960.44 1395.94,968.05 1404.44,975.75 1412.93,983.53 1421.42,991.4 1429.92,999.36 1438.41,1007.41 1446.91,1015.54 1455.4,1023.77" fill="none" stroke="#000" stroke-width="2"/>
<line x1="1319.5" y1="892" x2="1319.5" y2="948.1" stroke="#555" stroke-width="1.2" />
<line x1="1315" y1="892" x2="1324" y2="892" stroke="#555" stroke-width="1.2" />
<line x1="1315" y1="948.1" x2="1324" y2="948.1" stroke="#555" stroke-width="1.2" />
<line x1="1455.4" y1="918.7" x2="1455.4" y2="968.1" stroke="#555" stroke-width="1.2" />
<line x1="1450.9" y1="918.7" x2="1459.9" y2="918.7" stroke="#555" stroke-width="1.2" />
<line x1="1450.9" y1="968.1" x2="1459.9" y2="968.1" stroke="#555" stroke-width="1.2" />
<line x1="1455.4" y1="1029.5" x2="1455.4" y2="1048.7" stroke="#555" stroke-width="1.2" />
<line x1="1451.9" y1="1029.5" x2="1458.9" y2="1029.5" stroke="#555" stroke-width="1.2" />
<line x1="1451.9" y1="1048.7" x2="1458.9" y2="1048.7" stroke="#555" stroke-width="1.2" />
<line x1="1183.6" y1="722.7" x2="1183.6" y2="731" stroke="#555" stroke-width="1.2" />
<line x1="1179.6" y1="731" x2="1187.6" y2="731" stroke="#555" stroke-width="1.2" />
<line x1="1319.5" y1="797" x2="1319.5" y2="814.5" stroke="#555" stroke-width="1.2" />
<line x1="1315.5" y1="797" x2="1323.5" y2="797" stroke="#555" stroke-width="1.2" />
<line x1="1315.5" y1="814.5" x2="1323.5" y2="814.5" stroke="#555" stroke-width="1.2" />
<clipPath id="dclip"><rect x="910.8" y="630" width="660" height="422.2"/></clipPath>
<g clip-path="url(#dclip)">
<rect x="906.8" y="643.4" width="10" height="10" fill="#000"/>
<rect x="974.75" y="660.4" width="10" height="10" fill="#000"/>
<rect x="1042.7" y="670.6" width="10" height="10" fill="#000"/>
<rect x="1178.6" y="717.7" width="10" height="10" fill="#000"/>
<rect x="1314.5" y="766" width="10" height="10" fill="#000"/>
<rect x="1450.4" y="909.8" width="10" height="10" fill="#000"/>
<circle cx="911.8" cy="648.4" r="5.6" fill="#000"/>
<circle cx="979.75" cy="664.1" r="5.6" fill="#000"/>
<circle cx="1047.7" cy="686.5" r="5.6" fill="#000"/>
<circle cx="1183.6" cy="754.5" r="5.6" fill="#000"/>
<circle cx="1319.5" cy="804.6" r="5.6" fill="#000"/>
<circle cx="1455.4" cy="937.1" r="5.6" fill="#000"/>
<path d="M911.8 641.4 L919 653 L904.6 653 Z" fill="#000"/>
<path d="M979.75 678.8 L986.95 690.4 L972.55 690.4 Z" fill="#000"/>
<path d="M1047.7 717.5 L1054.9 729.1 L1040.5 729.1 Z" fill="#000"/>
<path d="M1183.6 792.8 L1190.8 804.4 L1176.4 804.4 Z" fill="#000"/>
<path d="M1319.5 905.2 L1326.7 916.8 L1312.3 916.8 Z" fill="#000"/>
<path d="M1455.4 1030.4 L1462.6 1042 L1448.2 1042 Z" fill="#000"/>
</g>
<rect x="1402.8" y="657.4" width="10" height="10" fill="#000"/>
<circle cx="1407.8" cy="685.8" r="5.6" fill="#000"/>
<path d="M1407.8 702.5 L1415 714.1 L1400.6 714.1 Z" fill="#000"/>
<text font-family='"Liberation Serif", serif' font-size="18" text-anchor="start" fill="#000" font-weight="bold" transform="translate(1435.8 668.7) scale(1.06 1)" >mock</text>
<text font-family='"Liberation Serif", serif' font-size="18" text-anchor="start" fill="#000" font-weight="bold" transform="translate(1435.8 691.6) scale(1.06 1)" >miR-con</text>
<text font-family='"Liberation Serif", serif' font-size="18" text-anchor="start" fill="#000" font-weight="bold" transform="translate(1435.8 714.5) scale(1.06 1)" >miR-449a</text>
</g>
</svg>
</body>
</html>
